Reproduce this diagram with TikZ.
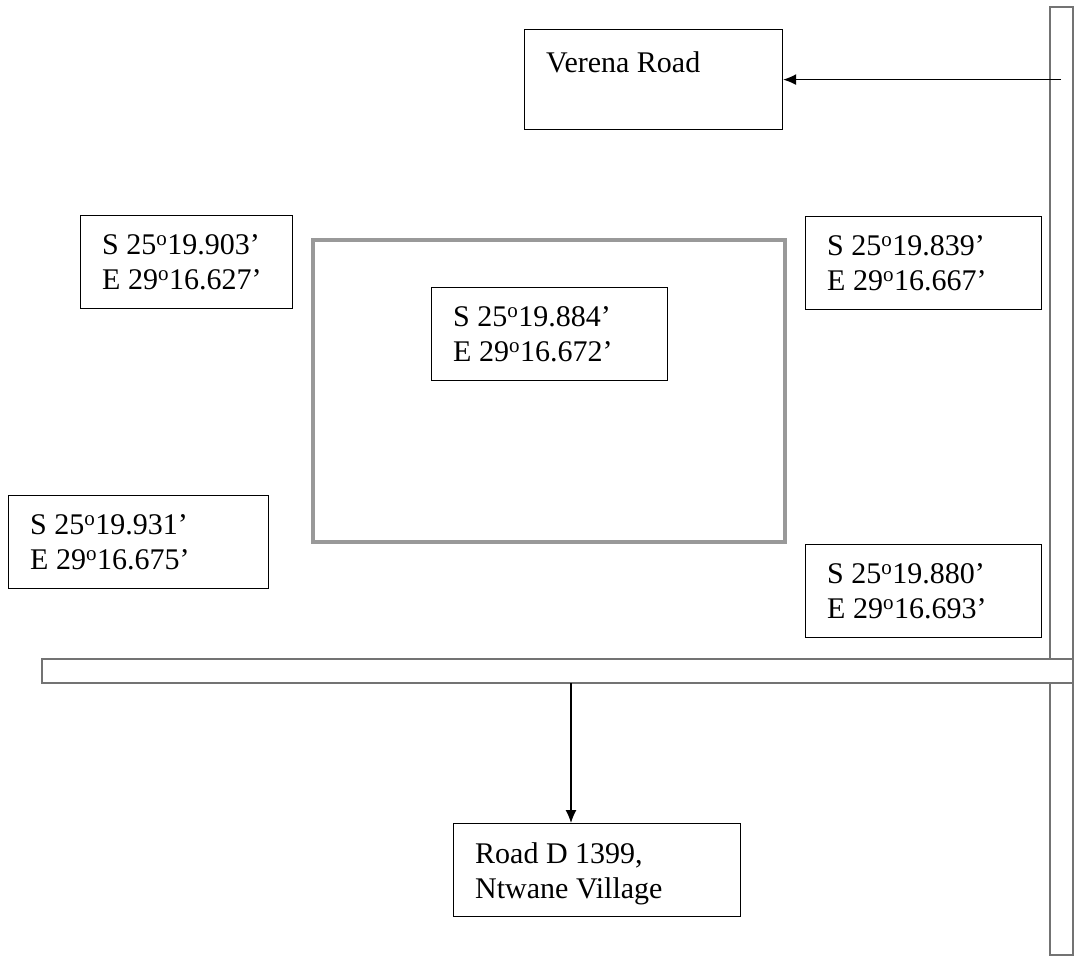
\documentclass[tikz,border=0pt]{standalone}
\usepackage{fontspec}
\setmainfont{Liberation Serif}
\usetikzlibrary{arrows.meta}

\tikzset{
  gpsbox/.style={draw, line width=1.2pt, anchor=north west, inner sep=0pt,
    minimum width=#1, minimum height=93pt},
  gpstext/.style={anchor=north west, inner xsep=22pt, inner ysep=19pt, align=left,
    font=\fontsize{30}{35}\selectfont},
  road/.style={draw=black!55, line width=2pt, fill=white},
  arr/.style={line width=1.2pt, -{Latex[length=13pt, width=11pt]}},
}
\newcommand{\dg}{\textsuperscript{o}}

\begin{document}
\begin{tikzpicture}[x=1pt, y=-1pt]
    % размеры картинки
    \useasboundingbox (0,0) rectangle (1077,961);

    % дороги
    \draw[road] (1050,7) rectangle (1073,955);
    \draw[road] (42,659) rectangle (1073,683);

    % участок
    \draw[line width=3.5pt, black!40] (313,240) rectangle (785,542);

    % подписи
    \node[gpsbox=258pt, minimum height=100pt,
      label={[gpstext, inner ysep=22pt]north west:Verena Road}] (verena) at (524,29) {};
    \node[gpsbox=212pt,
      label={[gpstext]north west:S 25\dg19.903’\\E 29\dg16.627’}] (nw) at (80,215) {};
    \node[gpsbox=236pt,
      label={[gpstext]north west:S 25\dg19.884’\\E 29\dg16.672’}] (centre) at (431,287) {};
    \node[gpsbox=236pt,
      label={[gpstext]north west:S 25\dg19.839’\\E 29\dg16.667’}] (ne) at (805,216) {};
    \node[gpsbox=260pt,
      label={[gpstext]north west:S 25\dg19.931’\\E 29\dg16.675’}] (sw) at (8,495) {};
    \node[gpsbox=236pt,
      label={[gpstext]north west:S 25\dg19.880’\\E 29\dg16.693’}] (se) at (805,544) {};
    \node[gpsbox=287pt,
      label={[gpstext]north west:{Road D 1399,\\Ntwane Village}}] (village) at (453,823) {};

    % стрелки
    \coordinate (vjoin) at (1061,0);
    \coordinate (hjoin) at (571,683);
    \draw[arr] (vjoin |- verena.east) -- (verena.east);
    \draw[arr] (hjoin) -- (hjoin |- village.north);
\end{tikzpicture}
\end{document}
